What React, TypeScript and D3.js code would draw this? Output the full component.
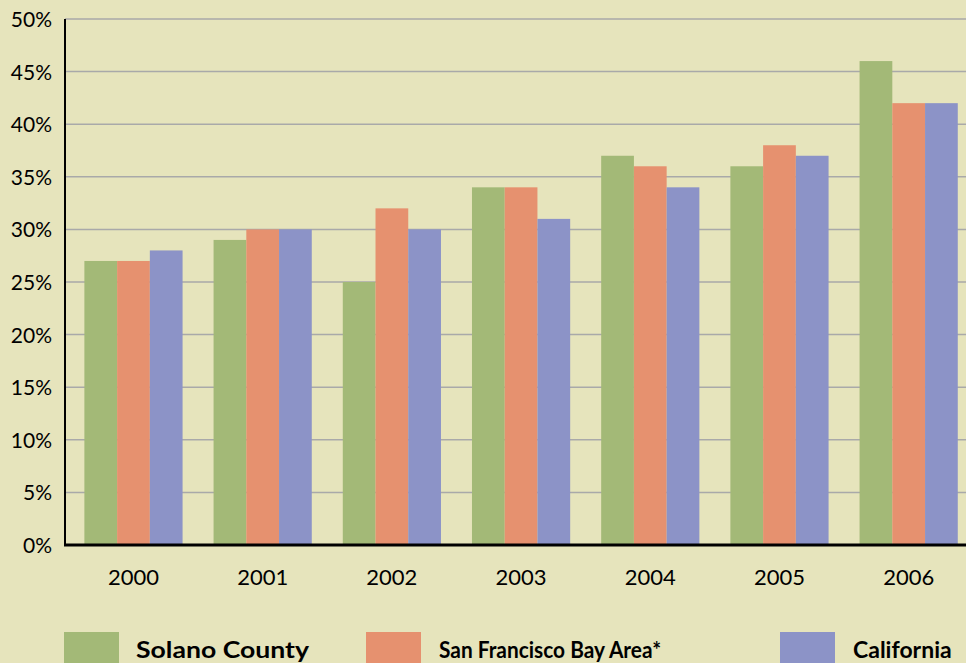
import React, { useRef, useLayoutEffect } from "react";
import * as d3 from "d3";

const years = ["2000", "2001", "2002", "2003", "2004", "2005", "2006"];
const seriesNames = ["Solano County", "San Francisco Bay Area*", "California"];
const solano = [27, 29, 25, 34, 37, 36, 46];
const bayArea = [27, 30, 32, 34, 36, 38, 42];
const california = [28, 30, 30, 31, 34, 37, 42];
const yTicks = [0, 5, 10, 15, 20, 25, 30, 35, 40, 45, 50];
const colors = ["#a3b977", "#e6916f", "#8c93c7"];

const W = 966;
const H = 663;

const App: React.FC = () => {
  const svgRef = useRef<SVGSVGElement>(null);

  useLayoutEffect(() => {
    if (!svgRef.current) return;
    const svg = d3.select(svgRef.current);
    svg.selectAll("*").remove();

    const left = 65;
    const top = 19;
    const bottom = 545;
    const font = "'Lato', 'Open Sans', sans-serif";

    const x0 = d3
      .scaleBand<string>()
      .domain(years)
      .range([left, left + 7.06 * 129.2])
      .paddingInner(0.24)
      .paddingOuter(0.15);

    const x1 = d3
      .scaleBand<string>()
      .domain(seriesNames)
      .range([0, x0.bandwidth()]);

    const y = d3.scaleLinear().domain([0, 50]).range([bottom, top]);

    svg
      .append("rect")
      .attr("width", W)
      .attr("height", H)
      .attr("fill", "#e6e4bc");

    // gridlines
    svg
      .append("g")
      .selectAll("line")
      .data(yTicks.filter((t) => t > 0))
      .join("line")
      .attr("x1", left)
      .attr("x2", W)
      .attr("y1", (d) => y(d))
      .attr("y2", (d) => y(d))
      .attr("stroke", "#a9a9a9")
      .attr("stroke-width", 1.5);

    // y tick labels
    svg
      .append("g")
      .selectAll("text")
      .data(yTicks)
      .join("text")
      .attr("x", 52)
      .attr("y", (d) => y(d) + 8)
      .attr("text-anchor", "end")
      .style("font-family", font)
      .style("font-size", "21px")
      .style("fill", "#000")
      .text((d) => `${d}%`);

    const data = years.map((yr, i) => ({
      year: yr,
      values: [solano[i], bayArea[i], california[i]],
    }));

    const groups = svg
      .append("g")
      .selectAll("g")
      .data(data)
      .join("g")
      .attr("transform", (d) => `translate(${x0(d.year)},0)`);

    groups
      .selectAll("rect")
      .data((d) => d.values.map((v, j) => ({ name: seriesNames[j], v, j })))
      .join("rect")
      .attr("x", (d) => x1(d.name)!)
      .attr("y", (d) => y(d.v))
      .attr("width", x1.bandwidth())
      .attr("height", (d) => bottom - y(d.v))
      .attr("fill", (d) => colors[d.j]);

    // year labels
    svg
      .append("g")
      .selectAll("text")
      .data(years)
      .join("text")
      .attr("x", (d) => x0(d)! + x0.bandwidth() / 2)
      .attr("y", 585)
      .attr("text-anchor", "middle")
      .style("font-family", font)
      .style("font-size", "22px")
      .style("fill", "#000")
      .text((d) => d);

    // axes
    svg
      .append("line")
      .attr("x1", left)
      .attr("x2", left)
      .attr("y1", top)
      .attr("y2", bottom + 1)
      .attr("stroke", "#000")
      .attr("stroke-width", 2);
    svg
      .append("line")
      .attr("x1", left - 1)
      .attr("x2", W)
      .attr("y1", bottom)
      .attr("y2", bottom)
      .attr("stroke", "#000")
      .attr("stroke-width", 3);

    // legend
    const legendX = [64, 366, 780];
    const legendLen = [173, 222, null];
    const legendSize = [23, 22, 23];
    const legend = svg
      .append("g")
      .selectAll("g")
      .data(seriesNames)
      .join("g")
      .attr("transform", (_, i) => `translate(${legendX[i]}, 632)`);
    legend
      .append("rect")
      .attr("width", 55)
      .attr("height", 40)
      .attr("fill", (_, i) => colors[i]);
    legend
      .append("text")
      .attr("x", (_, i) => (i === 0 ? 72 : 73))
      .attr("y", 26)
      .attr("textLength", (_, i) => legendLen[i])
      .attr("lengthAdjust", "spacingAndGlyphs")
      .style("font-family", font)
      .style("font-size", (_, i) => `${legendSize[i]}px`)
      .style("font-weight", "700")
      .style("fill", "#000")
      .text((d) => d);
  }, []);

  return (
    <div style={{ position: "absolute", left: 0, top: 0, width: W, height: H, overflow: "hidden" }}>
      <svg ref={svgRef} width={W} height={H} style={{ display: "block" }} />
    </div>
  );
};

export default App;
